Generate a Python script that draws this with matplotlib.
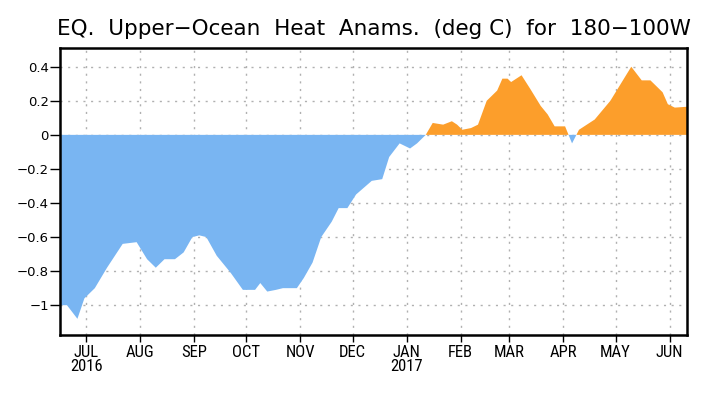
import numpy as np
import pandas as pd
import matplotlib
matplotlib.use("Agg")
from matplotlib import pyplot as plt

# heat content anomaly
dates = ["2016-06-16", "2016-06-20", "2016-06-26", "2016-06-30", "2016-07-06",
         "2016-07-13", "2016-07-22", "2016-07-30", "2016-08-05", "2016-08-10",
         "2016-08-15", "2016-08-21", "2016-08-26", "2016-08-31", "2016-09-04",
         "2016-09-08", "2016-09-14", "2016-09-22", "2016-09-29", "2016-10-06",
         "2016-10-09", "2016-10-13", "2016-10-18", "2016-10-22", "2016-10-30",
         "2016-11-03", "2016-11-08", "2016-11-13", "2016-11-19", "2016-11-23",
         "2016-11-28", "2016-12-03", "2016-12-12", "2016-12-18", "2016-12-22",
         "2016-12-28", "2017-01-03", "2017-01-07", "2017-01-12", "2017-01-16",
         "2017-01-22", "2017-01-27", "2017-01-30", "2017-02-02", "2017-02-07",
         "2017-02-11", "2017-02-16", "2017-02-22", "2017-02-25", "2017-02-28",
         "2017-03-02", "2017-03-08", "2017-03-13", "2017-03-19", "2017-03-23",
         "2017-03-27", "2017-04-02", "2017-04-06", "2017-04-10", "2017-04-19",
         "2017-04-28", "2017-05-10", "2017-05-16", "2017-05-21", "2017-05-28",
         "2017-05-31", "2017-06-04", "2017-06-11"]
anom = [-1.00, -1.00, -1.08, -0.96, -0.90,
        -0.78, -0.64, -0.63, -0.73, -0.78,
        -0.73, -0.73, -0.69, -0.60, -0.59,
        -0.60, -0.71, -0.81, -0.91, -0.91,
        -0.87, -0.92, -0.91, -0.90, -0.90,
        -0.84, -0.75, -0.60, -0.51, -0.43,
        -0.43, -0.35, -0.27, -0.26, -0.13,
        -0.05, -0.08, -0.05, 0.00, 0.07,
        0.06, 0.08, 0.06, 0.03, 0.04,
        0.06, 0.20, 0.26, 0.33, 0.33,
        0.31, 0.35, 0.27, 0.17, 0.12,
        0.05, 0.05, -0.05, 0.03, 0.09,
        0.20, 0.40, 0.32, 0.32, 0.25,
        0.18, 0.16, 0.165]

month_ticks = ["2016-07-01", "2016-08-01", "2016-09-01", "2016-10-01", "2016-11-01",
               "2016-12-01", "2017-01-01", "2017-02-01", "2017-03-01", "2017-04-01",
               "2017-05-01", "2017-06-01"]
month_labels = ["JUL\n2016", "AUG", "SEP", "OCT", "NOV", "DEC", "JAN\n2017",
                "FEB", "MAR", "APR", "MAY", "JUN"]
y_ticks = [-1, -0.8, -0.6, -0.4, -0.2, 0, 0.2, 0.4]
y_labels = ["\u22121", "\u22120.8", "\u22120.6", "\u22120.4", "\u22120.2", "0", "0.2", "0.4"]

x = pd.to_datetime(dates)
y = np.array(anom)

fig = plt.figure(figsize=(7.06, 3.97), dpi=100)
ax = fig.add_axes([60 / 706, 1 - 335 / 397, 627 / 706, 287 / 397])

ax.fill_between(x, y, 0, where=y <= 0, interpolate=True, color="#79b5f2", lw=0, zorder=2)
ax.fill_between(x, y, 0, where=y >= 0, interpolate=True, color="#fc9e2b", lw=0, zorder=2)

ax.set_xlim(pd.Timestamp("2016-06-16"), pd.Timestamp("2017-06-11"))
ax.set_ylim(-1.175, 0.51)

ax.set_xticks(pd.to_datetime(month_ticks))
ax.set_xticklabels(month_labels, family=["Roboto Condensed", "DejaVu Sans"],
                   fontsize=12, linespacing=0.9)
ax.set_yticks(y_ticks)
ax.set_yticklabels(y_labels, family="DejaVu Sans", fontsize=9.5)

ax.grid(True, color="#b0b0b0", linestyle=(0, (1.5, 4)), linewidth=1.0, zorder=1)
ax.set_axisbelow(True)
ax.tick_params(axis="x", direction="out", length=5, width=1, pad=2)
ax.tick_params(axis="y", direction="out", length=7, width=1, pad=1)
for s in ax.spines.values():
    s.set_linewidth(1.8)

fig.text(373.5 / 706, 1 - 29 / 397, "EQ.  Upper\u2212Ocean  Heat  Anams.  (deg C)  for  180\u2212100W",
         ha="center", va="center", fontsize=15.5, family="DejaVu Sans")

fig.savefig("out.png", dpi=100)
